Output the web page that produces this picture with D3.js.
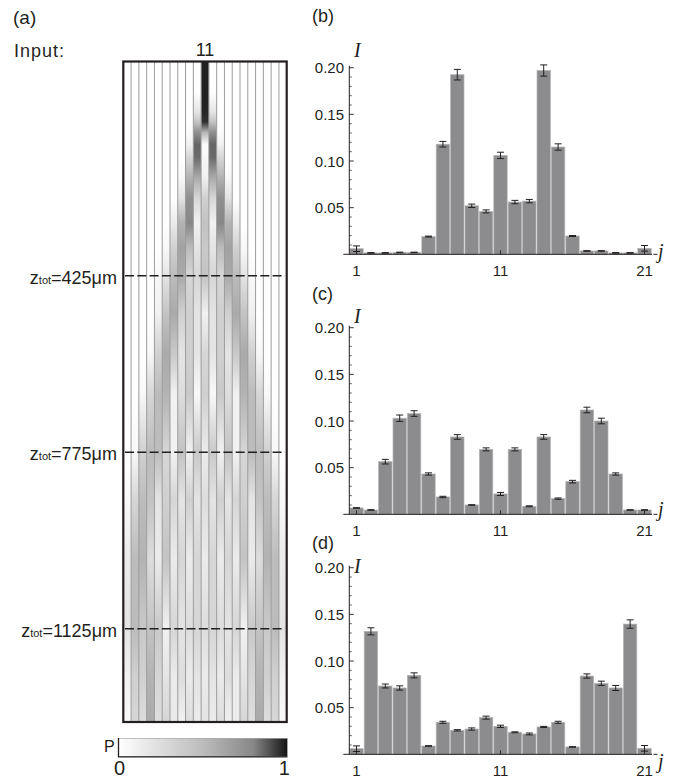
<!DOCTYPE html>
<html>
<head>
<meta charset="utf-8">
<script src="https://cdn.jsdelivr.net/npm/d3@7"></script>
<style>
  body { margin: 0; background: #fff; }
  text { font-family: "Liberation Sans", Arial, sans-serif; fill: #231f20; }
  .math { font-family: "Liberation Serif", "Times New Roman", serif; font-style: italic; }
</style>
</head>
<body>
<svg id="fig" width="699" height="779"></svg>
<script>
// ---- data ----
const sites = d3.range(1, 22);
const inputSite = 11;
const zMax = 1310;
const cutZ = [425, 775, 1125];
const cutLabels = ["425", "775", "1125"];

// simulated propagation P(z, site), read off the grey levels of panel (a)
const heatZ = [0, 60, 100, 120, 140, 165, 190, 230, 270, 320, 370, 425, 500, 580, 660, 775, 870, 985, 1125, 1220, 1310];
const heatP = [
  [0, 0, 0, 0, 0, 0, 0, 0, 0, 0, 0.98, 0, 0, 0, 0, 0, 0, 0, 0, 0, 0],
  [0, 0, 0, 0, 0, 0, 0, 0, 0, 0, 0.98, 0, 0, 0, 0, 0, 0, 0, 0, 0, 0],
  [0, 0, 0, 0, 0, 0, 0, 0, 0, 0.2, 0.97, 0.2, 0, 0, 0, 0, 0, 0, 0, 0, 0],
  [0, 0, 0, 0, 0, 0, 0, 0, 0, 0.45, 0.95, 0.45, 0, 0, 0, 0, 0, 0, 0, 0, 0],
  [0, 0, 0, 0, 0, 0, 0, 0, 0.02, 0.75, 0.55, 0.75, 0.02, 0, 0, 0, 0, 0, 0, 0, 0],
  [0, 0, 0, 0, 0, 0, 0, 0, 0.1, 0.86, 0.02, 0.86, 0.1, 0, 0, 0, 0, 0, 0, 0, 0],
  [0, 0, 0, 0, 0, 0, 0, 0, 0.3, 0.85, 0.05, 0.85, 0.3, 0, 0, 0, 0, 0, 0, 0, 0],
  [0, 0, 0, 0, 0, 0, 0, 0.05, 0.55, 0.6, 0.1, 0.6, 0.55, 0.05, 0, 0, 0, 0, 0, 0, 0],
  [0, 0, 0, 0, 0, 0, 0, 0.2, 0.75, 0.3, 0.35, 0.3, 0.75, 0.2, 0, 0, 0, 0, 0, 0, 0],
  [0, 0, 0, 0, 0, 0, 0.15, 0.55, 0.8, 0.1, 0.45, 0.1, 0.8, 0.55, 0.15, 0, 0, 0, 0, 0, 0],
  [0, 0, 0, 0, 0, 0.05, 0.35, 0.65, 0.5, 0.2, 0.4, 0.2, 0.5, 0.65, 0.35, 0.05, 0, 0, 0, 0, 0],
  [0, 0, 0, 0, 0.05, 0.2, 0.5, 0.6, 0.3, 0.3, 0.45, 0.3, 0.3, 0.6, 0.5, 0.2, 0.05, 0, 0, 0, 0],
  [0, 0, 0, 0, 0.1, 0.45, 0.6, 0.35, 0.35, 0.2, 0.1, 0.2, 0.35, 0.35, 0.6, 0.45, 0.1, 0, 0, 0, 0],
  [0, 0, 0, 0.05, 0.35, 0.6, 0.4, 0.2, 0.35, 0.2, 0.3, 0.2, 0.35, 0.2, 0.4, 0.6, 0.35, 0.05, 0, 0, 0],
  [0, 0, 0.05, 0.3, 0.5, 0.55, 0.1, 0.25, 0.4, 0.05, 0.35, 0.05, 0.4, 0.25, 0.1, 0.55, 0.5, 0.3, 0.05, 0, 0],
  [0, 0.05, 0.35, 0.5, 0.5, 0.3, 0.1, 0.45, 0.1, 0.4, 0.15, 0.4, 0.1, 0.45, 0.1, 0.3, 0.5, 0.5, 0.35, 0.05, 0],
  [0.05, 0.3, 0.5, 0.45, 0.2, 0.35, 0.3, 0.2, 0.35, 0.2, 0.25, 0.2, 0.35, 0.2, 0.3, 0.35, 0.2, 0.45, 0.5, 0.3, 0.05],
  [0.15, 0.5, 0.55, 0.25, 0.15, 0.45, 0.15, 0.3, 0.15, 0.3, 0.15, 0.3, 0.15, 0.3, 0.15, 0.45, 0.15, 0.25, 0.55, 0.5, 0.15],
  [0.2, 0.5, 0.4, 0.45, 0.4, 0.1, 0.3, 0.2, 0.25, 0.3, 0.25, 0.3, 0.25, 0.2, 0.3, 0.1, 0.4, 0.45, 0.4, 0.5, 0.2],
  [0.1, 0.35, 0.35, 0.55, 0.3, 0.2, 0.15, 0.25, 0.15, 0.2, 0.15, 0.2, 0.15, 0.25, 0.15, 0.2, 0.3, 0.55, 0.35, 0.35, 0.1],
  [0.05, 0.3, 0.25, 0.6, 0.25, 0.3, 0.15, 0.1, 0.25, 0.15, 0.2, 0.15, 0.25, 0.1, 0.15, 0.3, 0.25, 0.6, 0.25, 0.3, 0.05]
];

// measured output intensities I_j at the three lengths
const intensB = [0.006, 0.0015, 0.0015, 0.002, 0.002, 0.019, 0.118, 0.1925, 0.052, 0.046, 0.106, 0.056, 0.057, 0.197, 0.115, 0.0196, 0.0036, 0.0036, 0.0015, 0.0015, 0.0064];
const errB = [0.003, 0.0003, 0.0003, 0.0003, 0.0003, 0.0005, 0.003, 0.0057, 0.0018, 0.0016, 0.0034, 0.0018, 0.0018, 0.006, 0.0034, 0.0005, 0.0003, 0.0003, 0.0003, 0.0003, 0.003];
const intensC = [0.0068, 0.0046, 0.0564, 0.103, 0.108, 0.0432, 0.0186, 0.0829, 0.01, 0.0696, 0.0218, 0.0696, 0.0086, 0.0829, 0.0168, 0.035, 0.1118, 0.1, 0.0432, 0.0046, 0.0046];
const errC = [0.0003, 0.0003, 0.0025, 0.0034, 0.003, 0.0012, 0.0007, 0.0025, 0.0003, 0.0016, 0.0016, 0.0016, 0.0005, 0.0025, 0.0007, 0.0014, 0.003, 0.003, 0.0012, 0.0003, 0.0003];
const intensD = [0.006, 0.1318, 0.0732, 0.0711, 0.0846, 0.0089, 0.0343, 0.0257, 0.0271, 0.0393, 0.03, 0.0236, 0.0218, 0.0293, 0.0343, 0.0079, 0.0839, 0.0761, 0.0711, 0.1396, 0.0064];
const errD = [0.003, 0.0038, 0.0021, 0.0023, 0.0027, 0.0003, 0.0011, 0.0007, 0.0012, 0.0016, 0.0012, 0.0005, 0.001, 0.0006, 0.0011, 0.0003, 0.0023, 0.0023, 0.0027, 0.0045, 0.003];

const yTicks = [0.05, 0.10, 0.15, 0.20];
const xTicks = [1, 11, 21];

// ---- drawing ----
const svg = d3.select("#fig");
svg.append("rect").attr("width", 699).attr("height", 779).attr("fill", "#fff");
const defs = svg.append("defs");

const grey = d3.scaleLinear()
  .domain([0, 0.3, 0.5, 0.8, 1])
  .range(["#ffffff", "#d6d6d6", "#bcbcbc", "#878787", "#141414"]);

drawPropagation();
drawBars(intensB, errB, 67.7, { tagY: 22, iY: -11, jY: 4 }, "(b)");
drawBars(intensC, errC, 327.7, { tagY: 300, iY: -5, jY: 2 }, "(c)");
drawBars(intensD, errD, 567.7, { tagY: 549, iY: 5, jY: 14 }, "(d)");

function drawPropagation() {
  const x = d3.scaleBand().domain(sites).range([123.3, 286.7]);
  const z = d3.scaleLinear().domain([0, zMax]).range([61.5, 722]);
  const g = svg.append("g");

  sites.forEach((s, i) => {
    const grad = defs.append("linearGradient")
      .attr("id", "wg" + s)
      .attr("x1", 0).attr("y1", 0).attr("x2", 0).attr("y2", 1);
    heatZ.forEach((zz, r) => {
      grad.append("stop")
        .attr("offset", zz / zMax)
        .attr("stop-color", grey(heatP[r][i]));
    });
  });

  g.selectAll("rect.wg")
    .data(sites)
    .enter()
    .append("rect")
    .attr("class", "wg")
    .attr("x", (d) => x(d))
    .attr("y", z(0))
    .attr("width", x.bandwidth() + 0.2)
    .attr("height", z(zMax) - z(0))
    .attr("fill", (d) => `url(#wg${d})`);

  g.selectAll("line.sep")
    .data(sites.slice(1))
    .enter()
    .append("line")
    .attr("class", "sep")
    .attr("x1", (d) => x(d)).attr("x2", (d) => x(d))
    .attr("y1", z(0)).attr("y2", z(zMax))
    .attr("stroke", "#9c9c9c")
    .attr("stroke-width", 1);

  g.selectAll("line.cut")
    .data(cutZ)
    .enter()
    .append("line")
    .attr("class", "cut")
    .attr("x1", 125).attr("x2", 285)
    .attr("y1", (d) => z(d)).attr("y2", (d) => z(d))
    .attr("stroke", "#231f20")
    .attr("stroke-width", 1.6)
    .attr("stroke-dasharray", "9,3.3");

  g.append("rect")
    .attr("x", 123.3).attr("y", z(0))
    .attr("width", 286.7 - 123.3).attr("height", z(zMax) - z(0))
    .attr("fill", "none")
    .attr("stroke", "#231f20")
    .attr("stroke-width", 2.2);

  const lbl = g.selectAll("text.cut")
    .data(cutZ)
    .enter()
    .append("text")
    .attr("class", "cut")
    .attr("x", 117)
    .attr("y", (d) => z(d) + 8)
    .attr("text-anchor", "end")
    .attr("font-size", "18px");
  lbl.append("tspan").text("z");
  lbl.append("tspan").attr("font-size", "11px").text("tot");
  lbl.append("tspan").text((d, i) => "=" + cutLabels[i] + "μm");

  g.append("text").attr("x", 13).attr("y", 24).attr("font-size", "19px").text("(a)");
  g.append("text").attr("x", 14).attr("y", 57).attr("font-size", "18px")
    .attr("letter-spacing", "1px").text("Input:");
  g.append("text").attr("x", x(inputSite) + x.bandwidth() / 2).attr("y", 56)
    .attr("text-anchor", "middle").attr("font-size", "18px").text(String(inputSite));

  // colour bar
  const cb = defs.append("linearGradient").attr("id", "cbar");
  grey.domain().forEach((v) => {
    cb.append("stop").attr("offset", v).attr("stop-color", grey(v));
  });
  const cbx = d3.scaleLinear().domain([0, 1]).range([118.5, 287.3]);
  g.append("rect")
    .attr("x", cbx(0)).attr("y", 738.3)
    .attr("width", cbx(1) - cbx(0)).attr("height", 18.4)
    .attr("fill", "url(#cbar)")
    .attr("stroke", "#9a9a9a").attr("stroke-width", 0.6);
  g.append("path")
    .attr("d", `M${cbx(0)},738 V${756.8} H${cbx(1)}`)
    .attr("fill", "none").attr("stroke", "#231f20").attr("stroke-width", 1.3);
  g.append("text").attr("x", 104).attr("y", 752).attr("font-size", "16px").text("P");
  g.selectAll("text.cb")
    .data([0, 1])
    .enter()
    .append("text")
    .attr("class", "cb")
    .attr("x", (d) => cbx(d) + (d ? -3 : 1))
    .attr("y", 775)
    .attr("text-anchor", "middle")
    .attr("font-size", "20px")
    .text((d) => d);
}

function drawBars(values, errors, yTop, pos, tag) {
  const base = yTop + 186.6;
  const x = d3.scaleBand().domain(sites).range([349.3, 651.7]).paddingInner(0.07).paddingOuter(0.035);
  const y = d3.scaleLinear().domain([0, 0.2]).range([base, yTop]);
  const g = svg.append("g");
  const cx = (d) => x(d) + x.bandwidth() / 2;

  g.selectAll("rect.bar")
    .data(sites)
    .enter()
    .append("rect")
    .attr("class", "bar")
    .attr("x", (d) => x(d))
    .attr("y", (d) => y(values[d - 1]))
    .attr("width", x.bandwidth())
    .attr("height", (d) => base - y(values[d - 1]))
    .attr("fill", "#8c8c8e")
    .attr("stroke", "#b4b4b6")
    .attr("stroke-width", 0.7);

  // error bars
  const eb = g.selectAll("g.err")
    .data(sites)
    .enter()
    .append("g")
    .attr("class", "err")
    .attr("stroke", "#231f20")
    .attr("stroke-width", 1);
  eb.append("line")
    .attr("x1", cx).attr("x2", cx)
    .attr("y1", (d) => y(values[d - 1] + errors[d - 1]))
    .attr("y2", (d) => Math.min(base, y(values[d - 1] - errors[d - 1])));
  eb.append("line")
    .attr("x1", (d) => cx(d) - 3.5).attr("x2", (d) => cx(d) + 3.5)
    .attr("y1", (d) => y(values[d - 1] + errors[d - 1]))
    .attr("y2", (d) => y(values[d - 1] + errors[d - 1]));
  eb.filter((d) => values[d - 1] - errors[d - 1] > 0)
    .append("line")
    .attr("x1", (d) => cx(d) - 3.5).attr("x2", (d) => cx(d) + 3.5)
    .attr("y1", (d) => y(values[d - 1] - errors[d - 1]))
    .attr("y2", (d) => y(values[d - 1] - errors[d - 1]));

  // axes
  g.append("line")
    .attr("x1", 343.3).attr("x2", 652)
    .attr("y1", base).attr("y2", base)
    .attr("stroke", "#231f20").attr("stroke-width", 1);
  g.append("line")
    .attr("x1", 653.5).attr("x2", 657.5)
    .attr("y1", base).attr("y2", base)
    .attr("stroke", "#231f20").attr("stroke-width", 1);
  g.append("line")
    .attr("x1", 349.3).attr("x2", 349.3)
    .attr("y1", base).attr("y2", yTop - 2)
    .attr("stroke", "#231f20").attr("stroke-width", 1);

  const minor = d3.range(1, 21).map((k) => k / 100).filter((v) => !yTicks.some((t) => Math.abs(t - v) < 1e-9));
  g.selectAll("line.minor")
    .data(minor)
    .enter()
    .append("line")
    .attr("x1", 349.3).attr("x2", 351.8)
    .attr("y1", (d) => y(d)).attr("y2", (d) => y(d))
    .attr("stroke", "#231f20").attr("stroke-width", 0.7);
  g.selectAll("line.major")
    .data(yTicks)
    .enter()
    .append("line")
    .attr("x1", 349.3).attr("x2", 353.8)
    .attr("y1", (d) => y(d)).attr("y2", (d) => y(d))
    .attr("stroke", "#231f20").attr("stroke-width", 0.9);
  g.selectAll("text.ytick")
    .data(yTicks)
    .enter()
    .append("text")
    .attr("x", 344)
    .attr("y", (d) => y(d) + 5.5)
    .attr("text-anchor", "end")
    .attr("font-size", "15px")
    .text((d) => d3.format(".2f")(d));

  g.selectAll("line.xtick")
    .data(xTicks)
    .enter()
    .append("line")
    .attr("x1", cx).attr("x2", cx)
    .attr("y1", base).attr("y2", base - 4)
    .attr("stroke", "#231f20").attr("stroke-width", 0.9);
  g.selectAll("text.xtick")
    .data(xTicks)
    .enter()
    .append("text")
    .attr("x", cx)
    .attr("y", base + 22)
    .attr("text-anchor", "middle")
    .attr("font-size", "15px")
    .text((d) => d);

  g.append("text").attr("class", "math").attr("x", 354).attr("y", yTop + pos.iY)
    .attr("font-size", "20px").text("I");
  g.append("text").attr("class", "math").attr("x", 658).attr("y", base + pos.jY)
    .attr("font-size", "20px").text("j");
  g.append("text").attr("x", 312).attr("y", pos.tagY).attr("font-size", "18px").text(tag);
}
</script>
</body>
</html>
